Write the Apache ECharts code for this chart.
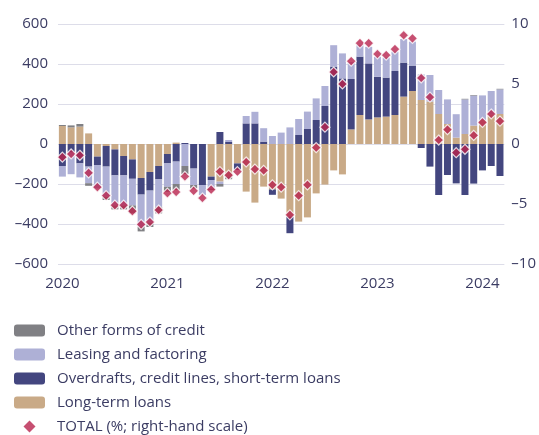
<!DOCTYPE html>
<html>
<head>
<meta charset="utf-8">
<script src="https://cdn.jsdelivr.net/npm/echarts@6/dist/echarts.min.js"></script>
<style>
html,body{margin:0;padding:0;background:#fff;}
#chart{width:539px;height:435px;}
</style>
</head>
<body>
<div id="chart"></div>
<script>
// Monthly categories Jan 2020 – Mar 2024
const months = [];
for (let y = 2020; y <= 2024; y++) {
  for (let m = 1; m <= 12; m++) {
    if (y === 2024 && m > 3) break;
    months.push(y + '-' + String(m).padStart(2, '0'));
  }
}
const longTerm = [90, 83, 87, 53, -63, -10, -27, -60, -77, -170, -140, -110, -50, 7, 0, 0, 0, -163, -188, -163, -97, -238, -293, -213, -227, -273, -363, -388, -367, -247, -203, -132, -152, 73, 145, 123, 133, 137, 145, 237, 265, 220, 212, 150, 100, 32, 50, 92, 120, 148, 150];
const overdrafts = [-110, -43, -97, -113, -42, -103, -130, -97, -97, -83, -93, -67, -47, -88, 5, -123, -205, -17, 60, 10, -33, 103, 103, 12, -27, 0, -83, 45, 75, 120, 190, 387, 328, 252, 292, 280, 203, 195, 220, 170, 127, -20, -113, -255, -155, -197, -255, -198, -132, -110, -160];
const leasing = [-53, -108, -70, -83, -117, -150, -150, -150, -133, -162, -160, -137, -117, -112, -110, -82, -50, -42, -12, 10, 0, 37, 58, 67, 40, 57, 83, 80, 87, 108, 100, 107, 125, 85, 57, 83, 100, 100, 97, 118, 120, 128, 133, 120, 123, 117, 173, 150, 123, 117, 123];
const other = [5, 10, 13, -13, 0, -17, -20, -20, -40, -22, -22, -33, -25, -30, -40, -17, 0, -8, -13, -13, 0, 0, 0, 0, 0, 0, 0, 0, 0, 0, 0, 0, 0, 0, 0, 0, 0, 0, 0, 0, 0, 0, 0, 0, 0, 0, 3, 3, 0, 0, 3];
const total = [-1.1, -0.83, -0.94, -2.4, -3.6, -4.3, -5.1, -5.1, -5.6, -6.7, -6.5, -5.5, -4.1, -4.0, -2.7, -3.9, -4.5, -3.8, -2.3, -2.6, -2.3, -1.5, -2.1, -2.2, -3.4, -3.6, -5.9, -4.3, -3.4, -0.3, 1.4, 6.0, 5.0, 6.9, 8.4, 8.4, 7.5, 7.4, 7.9, 9.06, 8.8, 5.5, 3.9, 0.33, 1.2, -0.72, -0.44, 0.72, 1.8, 2.5, 1.9];
const leftTicks = [-600, 600, 200];
const rightTicks = [-10, 10, 5];

const textColor = '#3b3c63';
const font = 'Open Sans';
const dash = v => String(v).replace('-', '\u2013');

const chart = echarts.init(document.getElementById('chart'), null, {renderer: 'canvas'});
const barCommon = {
  type: 'bar', stack: 'credit', barWidth: '80%', yAxisIndex: 0,
  emphasis: {disabled: true}
};
chart.setOption({
  animation: false,
  backgroundColor: '#ffffff',
  grid: {left: 58, right: 34, top: 24, bottom: 171, containLabel: false},
  legend: {
    orient: 'vertical', left: 14, top: 323, padding: 0,
    itemWidth: 31, itemHeight: 12, itemGap: 9,
    textStyle: {fontFamily: font, fontSize: 15, color: textColor, padding: [0, 0, 0, 7]},
    data: [
      {name: 'Other forms of credit'},
      {name: 'Leasing and factoring'},
      {name: 'Overdrafts, credit lines, short-term loans'},
      {name: 'Long-term loans'},
      {name: 'TOTAL (%; right-hand scale)', icon: 'path://M0,6L6,0L12,6L6,12Z',
       itemStyle: {color: '#b8234d', borderWidth: 0}}
    ],
    selectedMode: false
  },
  xAxis: {
    type: 'category', data: months, boundaryGap: true,
    axisLine: {show: false}, axisTick: {show: false},
    axisLabel: {
      interval: (i, v) => v.endsWith('-01'),
      formatter: v => v.slice(0, 4),
      fontFamily: font, fontSize: 15, color: textColor, margin: 12
    }
  },
  yAxis: [
    {
      type: 'value', min: leftTicks[0], max: leftTicks[1], interval: leftTicks[2],
      axisLine: {show: false}, axisTick: {show: false},
      splitLine: {lineStyle: {color: '#dddde9', width: 1}},
      axisLabel: {fontFamily: font, fontSize: 15, color: textColor, margin: 10, formatter: dash}
    },
    {
      type: 'value', min: rightTicks[0], max: rightTicks[1], interval: rightTicks[2],
      axisLine: {show: false}, axisTick: {show: false}, splitLine: {show: false},
      axisLabel: {fontFamily: font, fontSize: 15, color: textColor, margin: 7, formatter: dash}
    }
  ],
  series: [
    Object.assign({name: 'Long-term loans', data: longTerm, itemStyle: {color: '#c9aa87'}}, barCommon),
    Object.assign({name: 'Overdrafts, credit lines, short-term loans', data: overdrafts, itemStyle: {color: '#43467f'}}, barCommon),
    Object.assign({name: 'Leasing and factoring', data: leasing, itemStyle: {color: '#aeb0d6'}}, barCommon),
    Object.assign({name: 'Other forms of credit', data: other, itemStyle: {color: '#808084'}}, barCommon),
    {
      name: 'TOTAL (%; right-hand scale)', type: 'scatter', yAxisIndex: 1, data: total,
      symbol: 'diamond', symbolSize: 10, z: 5,
      itemStyle: {color: '#b8234d', borderColor: '#ffffff', borderWidth: 1.2},
      emphasis: {disabled: true}
    }
  ]
});
</script>
</body>
</html>
